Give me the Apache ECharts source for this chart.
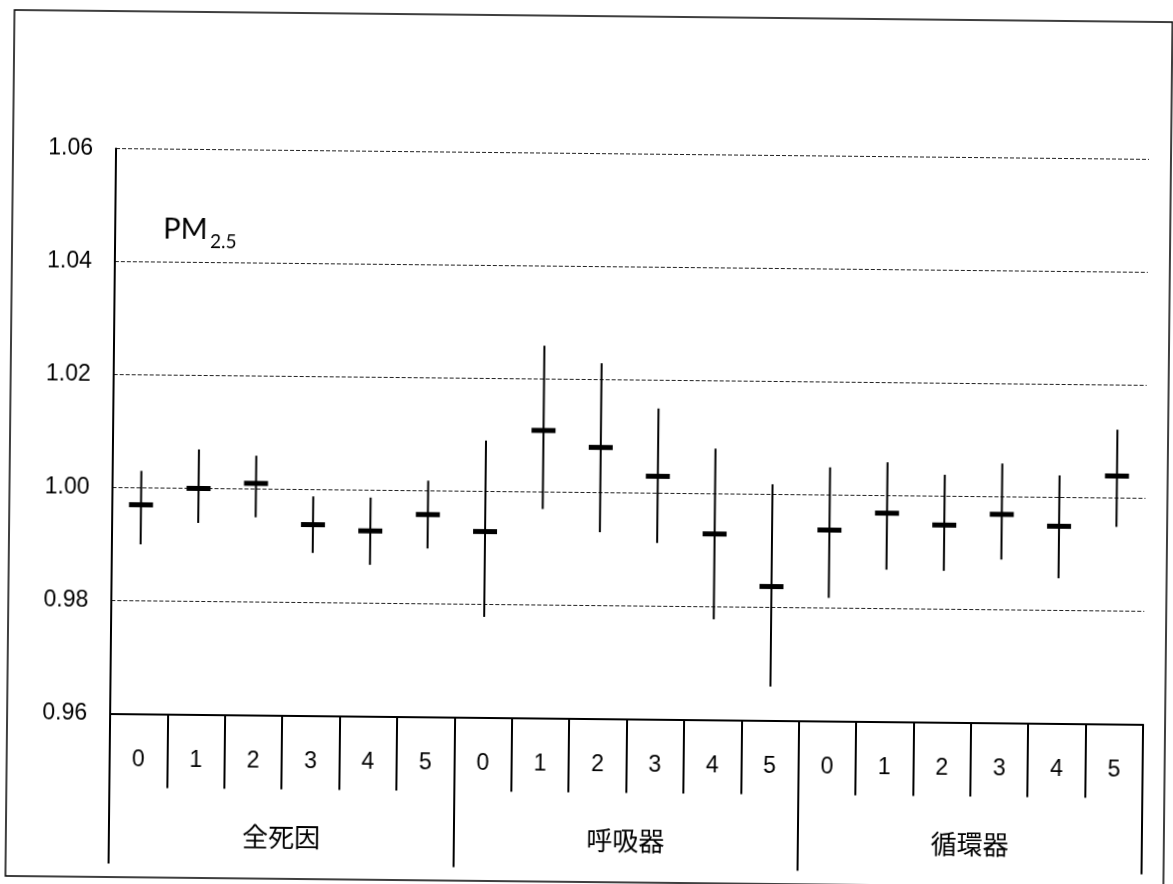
<!DOCTYPE html>
<html><head><meta charset="utf-8">
<script src="https://cdn.jsdelivr.net/npm/echarts@6/dist/echarts.min.js"></script>
<style>
html,body{margin:0;padding:0;background:#fff;overflow:hidden;}
#c{width:1173px;height:884px;transform:rotate(0.6deg);transform-origin:586px 442px;}
</style>
</head><body><div id="c"></div>
<script>
// Groups and lag labels
const groups = ['全死因', '呼吸器', '循環器'];
const lags = ['0', '1', '2', '3', '4', '5'];
// y-axis tick values
const yTicks = [0.96, 0.98, 1.00, 1.02, 1.04, 1.06];

// 全死因 (all causes)
const allEst = [0.9970, 1.0000, 1.0010, 0.9938, 0.9928, 0.9958];
const allLo  = [0.9900, 0.9939, 0.9950, 0.9888, 0.9868, 0.9898];
const allHi  = [1.0030, 1.0069, 1.0059, 0.9988, 0.9987, 1.0018];
// 呼吸器 (respiratory)
const respEst = [0.9929, 1.0109, 1.0080, 1.0030, 0.9929, 0.9837];
const respLo  = [0.9778, 0.9970, 0.9930, 0.9912, 0.9778, 0.9660];
const respHi  = [1.0090, 1.0259, 1.0229, 1.0150, 1.0080, 1.0018];
// 循環器 (circulatory)
const circEst = [0.9938, 0.9969, 0.9949, 0.9969, 0.9949, 1.0039];
const circLo  = [0.9818, 0.9869, 0.9868, 0.9889, 0.9857, 0.9949];
const circHi  = [1.0049, 1.0059, 1.0038, 1.0059, 1.0039, 1.0121];

const ests = [allEst, respEst, circEst];
const los = [allLo, respLo, circLo];
const his = [allHi, respHi, circHi];

const categories = [];
const data = [];
groups.forEach((g, gi) => {
  lags.forEach((l, li) => {
    categories.push(l);
    data.push([gi * lags.length + li, ests[gi][li], los[gi][li], his[gi][li]]);
  });
});

const chart = echarts.init(document.getElementById('c'), null, {renderer: 'canvas'});
chart.setOption({
  backgroundColor: '#fff',
  animation: false,
  grid: {left: 113, right: 27, top: 153.5, bottom: 165.5, containLabel: false},
  xAxis: [{
    type: 'category',
    position: 'bottom',
    data: categories,
    boundaryGap: true,
    axisLine: {show: true, lineStyle: {color: '#000', width: 2}},
    axisTick: {show: true, length: 74, lineStyle: {color: '#000', width: 2}},
    axisLabel: {show: true, interval: 0, margin: 35, color: '#000', fontSize: 23, fontFamily: 'Liberation Sans'},
    splitLine: {show: false}
  }, {
    type: 'category',
    position: 'bottom',
    gridIndex: 0,
    data: groups,
    boundaryGap: true,
    axisLine: {show: false},
    axisTick: {show: true, length: 150, lineStyle: {color: '#000', width: 2}},
    axisLabel: {show: true, interval: 0, margin: 109, color: '#000', fontSize: 26, fontFamily: 'Noto Sans CJK JP'},
    splitLine: {show: false}
  }],
  yAxis: {
    type: 'value',
    min: yTicks[0],
    max: yTicks[yTicks.length - 1],
    interval: 0.02,
    axisLine: {show: true, lineStyle: {color: '#000', width: 2}},
    axisTick: {show: false},
    axisLabel: {margin: 23, color: '#000', fontSize: 23, fontFamily: 'Liberation Sans',
      formatter: v => v.toFixed(2)},
    splitLine: {show: true, lineStyle: {color: '#222', width: 1, type: [4, 2]}}
  },
  graphic: [
    {type: 'rect', shape: {x: 10, y: 16, width: 1158, height: 866},
     style: {fill: 'none', stroke: '#000', lineWidth: 1.5}, silent: true},
    {type: 'text', left: 161, top: 219, style: {text: 'PM', font: '29px Lato', fill: '#000'}},
    {type: 'text', left: 208, top: 236, style: {text: '2.5', font: '19px Lato', fill: '#000'}}
  ],
  series: [{
    type: 'custom',
    xAxisIndex: 0,
    yAxisIndex: 0,
    data: data,
    encode: {x: 0, y: [1, 2, 3]},
    renderItem: function (params, api) {
      const x = api.value(0);
      const c = api.coord([x, api.value(1)]);
      const lo = api.coord([x, api.value(2)]);
      const hi = api.coord([x, api.value(3)]);
      return {
        type: 'group',
        children: [
          {type: 'line', shape: {x1: lo[0], y1: lo[1], x2: hi[0], y2: hi[1]},
           style: {stroke: '#000', lineWidth: 2}},
          {type: 'rect', shape: {x: c[0] - 12, y: c[1] - 2.5, width: 24, height: 5},
           style: {fill: '#000'}}
        ]
      };
    }
  }]
});
</script>
</body></html>
